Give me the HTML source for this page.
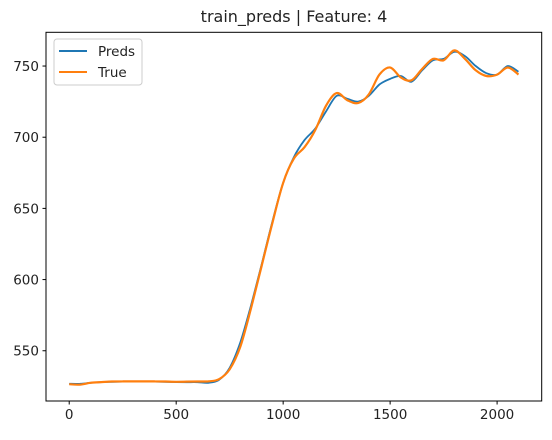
<!DOCTYPE html>
<html><head><meta charset="utf-8"><style>
body{margin:0;background:#fff;}
svg text{font-family:"DejaVu Sans","Liberation Sans",sans-serif;fill:#222;}
</style></head><body>
<svg id="chart" width="552" height="435" viewBox="0 0 552 435" xmlns="http://www.w3.org/2000/svg">
<rect width="552" height="435" fill="#fff"/>
<text x="294" y="22" font-size="16" text-anchor="middle">train_preds | Feature: 4</text>
<g id="series"></g>
<rect x="46" y="32.3" width="495.7" height="368.7" fill="none" stroke="#000" stroke-width="1"/>
<g id="axes"></g>
<g>
<rect x="54" y="39" width="88" height="46" rx="3" fill="#fff" fill-opacity="0.8" stroke="#ccc"/>
<line x1="59" y1="51" x2="87" y2="51" stroke="#1f77b4" stroke-width="2"/>
<text x="98" y="56" font-size="13.5">Preds</text>
<line x1="59" y1="72" x2="87" y2="72" stroke="#ff7f0e" stroke-width="2"/>
<text x="98" y="77" font-size="13.5">True</text>
</g>
</svg>
<script>
const xs = [0,50,100,150,200,250,300,350,400,450,500,550,600,650,700,750,800,850,900,950,1000,1050,1100,1150,1200,1250,1300,1350,1400,1450,1500,1550,1600,1650,1700,1750,1800,1850,1900,1950,2000,2050,2100];
const trueVals = [526.5,526.2,527.5,528,528.4,528.5,528.5,528.5,528.5,528.4,528.2,528.3,528.4,528.5,530,537,553,580,610,640,668,685,693,705,722,731,726,724,730,744,749,742,740,748,755,754,761,755,747,743,744,749,744];
const predVals = [526.8,526.8,527.5,528,528.2,528.3,528.3,528.3,528.3,528.2,528,527.9,527.9,527.5,529.5,538,556,582,611,641,668,686,698,706,718,729,727,725,729,737,741,743,739,747,754,755,760,757,750,745,744,750,746];
const xTicks = [0,500,1000,1500,2000];
const yTicks = [550,600,650,700,750];

const NS="http://www.w3.org/2000/svg";
const X0=46, X1=541.7, Y0=401, Y1=32.3;
const xMin=-108.5, xMax=2208.5, yMin=514.7, yMax=773.7;
const sx=v=>X0+(v-xMin)/(xMax-xMin)*(X1-X0);
const sy=v=>Y0-(v-yMin)/(yMax-yMin)*(Y0-Y1);
const axes=document.getElementById('axes');
function mk(tag,attrs,parent){const e=document.createElementNS(NS,tag);for(const k in attrs)e.setAttribute(k,attrs[k]);parent.appendChild(e);return e;}
xTicks.forEach(t=>{
  const l=mk('line',{x1:sx(t),x2:sx(t),y1:Y0,y2:Y0+3.5,stroke:'#000'},axes);
  
  
  const tx=mk('text',{x:sx(t),y:Y0+18,'font-size':'13.5','text-anchor':'middle'},axes);
  tx.textContent=t;
  
  
});
yTicks.forEach(t=>{
  const l=mk('line',{x1:X0-3.5,x2:X0,y1:sy(t),y2:sy(t),stroke:'#000'},axes);
  
  
  const tx=mk('text',{x:X0-7,y:sy(t)+5,'font-size':'13.5','text-anchor':'end'},axes);
  tx.textContent=t;
  
  
});
const series=document.getElementById('series');
function path(vals){
  const p=vals.map((v,i)=>[sx(xs[i]),sy(v)]);
  let d='M'+p[0][0].toFixed(1)+','+p[0][1].toFixed(1);
  for(let i=0;i<p.length-1;i++){
    const a=p[Math.max(i-1,0)],b=p[i],c=p[i+1],e=p[Math.min(i+2,p.length-1)];
    const c1=[b[0]+(c[0]-a[0])/6,b[1]+(c[1]-a[1])/6],c2=[c[0]-(e[0]-b[0])/6,c[1]-(e[1]-b[1])/6];
    d+=' C'+c1.map(n=>n.toFixed(1)).join(',')+' '+c2.map(n=>n.toFixed(1)).join(',')+' '+c.map(n=>n.toFixed(1)).join(',');
  }
  return d;
}
const p1=mk('path',{d:path(predVals),fill:'none',stroke:'#1f77b4','stroke-width':'1.8','stroke-linejoin':'round'},series);


const p2=mk('path',{d:path(trueVals),fill:'none',stroke:'#ff7f0e','stroke-width':'2.2','stroke-linejoin':'round'},series);


</script>
</body></html>
